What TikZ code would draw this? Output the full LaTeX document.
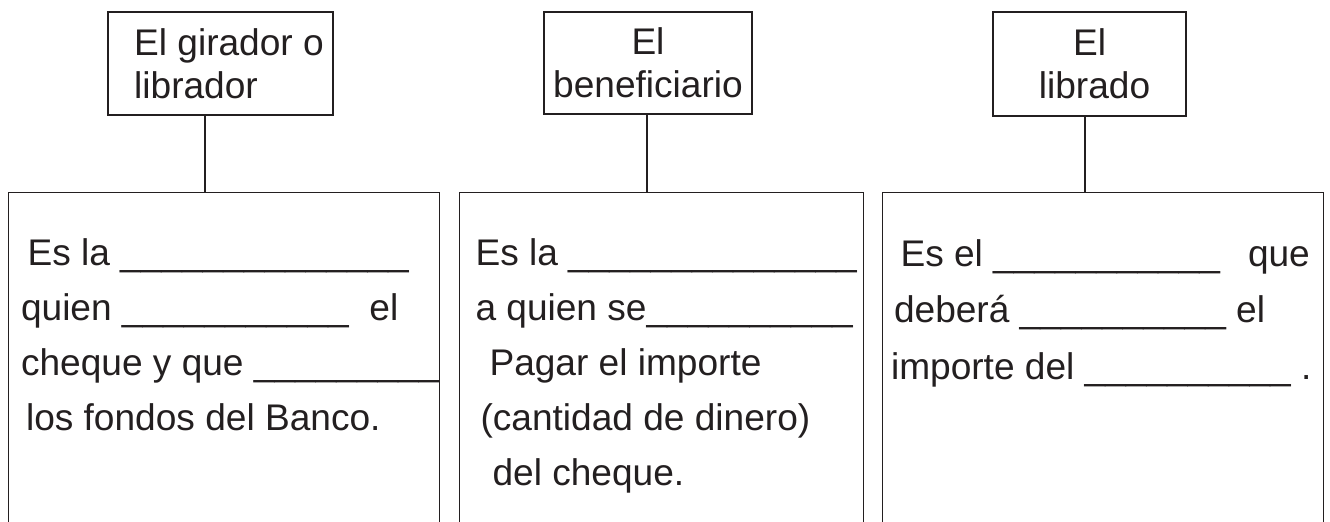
\documentclass[tikz,border=0pt]{standalone}
\usepackage{fontspec}
\setmainfont{Liberation Sans}
\usetikzlibrary{positioning}
\definecolor{ink}{RGB}{35,31,32}
\newcommand{\raya}[1]{\foreach \k in {1,...,#1}{\_}}

\begin{document}
\begin{tikzpicture}[
  line width=.3pt, ink,
  headbox/.style={draw, inner sep=0pt, align=left,
    font=\fontsize{10.55}{12.2}\selectfont},
  fillbox/.style={draw, anchor=north west, inner sep=0pt,
    minimum height=3.5cm},
  filltext/.style={anchor=base west, inner sep=0pt, align=left,
    font=\fontsize{10.55}{15.65}\selectfont}]

\clip (0,0) rectangle (13.3,-5.21);

\node[headbox, minimum width=2.25cm, minimum height=1.03cm]
  (girador) at (2.205,-.635)
  {\hspace*{.17cm}El girador o\\\hspace*{.17cm}librador};
\node[headbox, align=center, minimum width=2.08cm, minimum height=1.02cm]
  (beneficiario) at (6.48,-.63)
  {El\\beneficiario};
\node[headbox, align=center, minimum width=1.93cm, minimum height=1.04cm]
  (librado) at (10.895,-.64)
  {El\\\hspace*{.1cm}librado};

\node[fillbox, minimum width=4.31cm] (girbox) at (.08,-1.92) {};
\node[fillbox, minimum width=4.04cm] (benbox) at (4.59,-1.92) {};
\node[fillbox, minimum width=4.41cm] (libbox) at (8.82,-1.92) {};

\coordinate (girfoot) at ([xshift=-1.55mm]girador.south);
\coordinate (benfoot) at ([xshift=-.1mm]beneficiario.south);
\coordinate (libfoot) at ([xshift=-.45mm]librado.south);
\draw (girfoot) -- (girfoot |- girbox.north);
\draw (benfoot) -- (benfoot |- benbox.north);
\draw (libfoot) -- (libfoot |- libbox.north);

% base = baseline of the last line
\node[filltext] (girtext) at (.205,-4.30)
  {\hspace*{.065cm}Es la \raya{14}\\
   quien \raya{11}~~el\\
   cheque y que \raya{9}\\
   \hspace*{.05cm}los fondos del Banco.};

\node[filltext] (bentext) at (4.75,-4.85)
  {Es la \raya{14}\\
   a quien se\raya{10}\\
   \hspace*{.14cm}Pagar el importe\\
   \hspace*{.05cm}(cantidad de dinero)\\
   \hspace*{.17cm}del cheque.};

\node[filltext, font=\fontsize{10.55}{16.07}\selectfont]
  (libtext) at (8.905,-3.79)
  {\hspace*{.095cm}Es el \raya{11}\hspace{.28cm}que\\
   \hspace*{.03cm}deberá \raya{10}~el\\
   importe del \raya{10}~.};

\end{tikzpicture}
\end{document}
